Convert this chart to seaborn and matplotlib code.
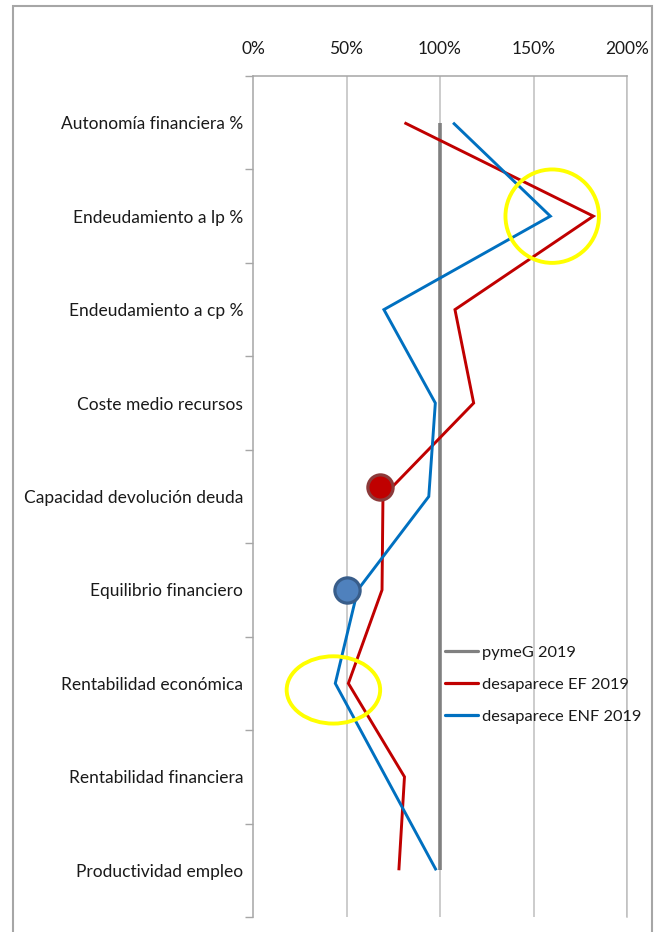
import matplotlib
matplotlib.use("Agg")
import matplotlib.pyplot as plt
from matplotlib.patches import Ellipse, Rectangle
from matplotlib.lines import Line2D
from matplotlib.ticker import FixedLocator, FuncFormatter
import numpy as np
import pandas as pd
import seaborn as sns

# ---------------- data ----------------
categorias = [
    "Autonomía financiera %",
    "Endeudamiento a lp %",
    "Endeudamiento a cp %",
    "Coste medio recursos",
    "Capacidad devolución deuda",
    "Equilibrio financiero",
    "Rentabilidad económica",
    "Rentabilidad financiera",
    "Productividad empleo",
]
pymeG_2019 = [100, 100, 100, 100, 100, 100, 100, 100, 100]
desaparece_EF_2019 = [81, 182, 108, 118, 69.5, 69, 51, 81, 78]
desaparece_ENF_2019 = [107, 159, 70, 97.5, 94, 56, 44, 71, 98]
series = ["pymeG 2019", "desaparece EF 2019", "desaparece ENF 2019"]
colores = ["#808080", "#C00000", "#0070C0"]
x_ticks = [0, 50, 100, 150, 200]

# highlighted points (annotation markers)
resaltado_valor = [68, 50]
resaltado_fila = [3.9, 5.0]
resaltado_color = ["#C00000", "#4F81BD"]
resaltado_borde = ["#8C3A3A", "#385D8A"]

# yellow annotation ellipses: (centre value, centre row, width %, height rows)
elipse_valor = [160, 43]
elipse_fila = [1.0, 6.07]
elipse_ancho = [50, 50]
elipse_alto = [1.0, 0.72]

# ---------------- build table ----------------
rows = []
for s, vals in zip(series, [pymeG_2019, desaparece_EF_2019, desaparece_ENF_2019]):
    for i, v in enumerate(vals):
        rows.append({"serie": s, "fila": i, "valor": v})
df = pd.DataFrame(rows)

sns.set_theme(style="white")
plt.rcParams["font.family"] = ["Lato", "DejaVu Sans"]

W, H = 662, 932
fig = plt.figure(figsize=(W / 100, H / 100), dpi=100)
ax = fig.add_axes([253 / W, 1 - 917 / H, (627 - 253) / W, (917 - 76) / H])

# vertical gridlines
for xt in x_ticks[1:]:
    ax.axvline(xt, color="#BFBFBF", lw=1.1, zorder=0)

sns.lineplot(
    data=df, x="valor", y="fila", hue="serie", hue_order=series,
    palette=dict(zip(series, colores)), sort=False, estimator=None,
    orient="y", ax=ax, legend=False, zorder=3,
)
for line, lw in zip(ax.get_lines()[-3:], [2.6, 2.1, 2.1]):
    line.set_linewidth(lw)
    line.set_solid_capstyle("butt")
    line.set_solid_joinstyle("miter")

# highlight markers
hl = pd.DataFrame({"valor": resaltado_valor, "fila": resaltado_fila})
for i in range(len(hl)):
    sns.scatterplot(x=[hl.valor[i]], y=[hl.fila[i]], s=330, color=resaltado_color[i],
                    edgecolor=resaltado_borde[i], linewidth=2.3, ax=ax, zorder=5,
                    legend=False)

# yellow ellipses
for cx, cy, w, h in zip(elipse_valor, elipse_fila, elipse_ancho, elipse_alto):
    ax.add_patch(Ellipse((cx, cy), w, h, fill=False, edgecolor="#FFFF00",
                         lw=2.8, zorder=6, clip_on=False))

ax.set_xlim(0, 200)
ax.set_ylim(8.5, -0.5)
ax.xaxis.tick_top()
ax.set_xticks(x_ticks)
ax.xaxis.set_major_formatter(FuncFormatter(lambda v, p: f"{int(v)}%"))
ax.tick_params(axis="x", length=0, pad=13.5, labelsize=12.5, colors="#1a1a1a")
ax.set_xlabel("")
ax.set_ylabel("")

ax.yaxis.set_major_locator(FixedLocator(np.arange(-0.5, 9, 1)))
ax.yaxis.set_minor_locator(FixedLocator(np.arange(0, 9)))
ax.yaxis.set_major_formatter(FuncFormatter(lambda v, p: ""))
ax.set_yticklabels(categorias, minor=True)
ax.tick_params(axis="y", which="major", length=6, width=1, color="#A6A6A6", left=True)
ax.tick_params(axis="y", which="minor", length=0, pad=7, labelsize=12.5, colors="#1a1a1a")

for side in ["left", "top", "right"]:
    ax.spines[side].set_color("#A6A6A6")
    ax.spines[side].set_linewidth(1.1)
ax.spines["right"].set_color("#BFBFBF")
ax.spines["bottom"].set_visible(False)

# legend
handles = [Line2D([0], [0], color=c, lw=2.3) for c in colores]
fig.legend(handles, series, loc="upper left", bbox_to_anchor=(430 / W, 1 - 631 / H),
           frameon=False, fontsize=11.8, handlelength=2.0, handletextpad=0.3,
           labelspacing=1.05, labelcolor="#1a1a1a")

# outer chart frame
fig.patches.append(Rectangle((13 / W, -0.02), (652 - 13) / W, 1 - 6 / H + 0.02,
                             transform=fig.transFigure, fill=False,
                             edgecolor="#A6A6A6", lw=1.5))

fig.savefig("out.png", dpi=100)
